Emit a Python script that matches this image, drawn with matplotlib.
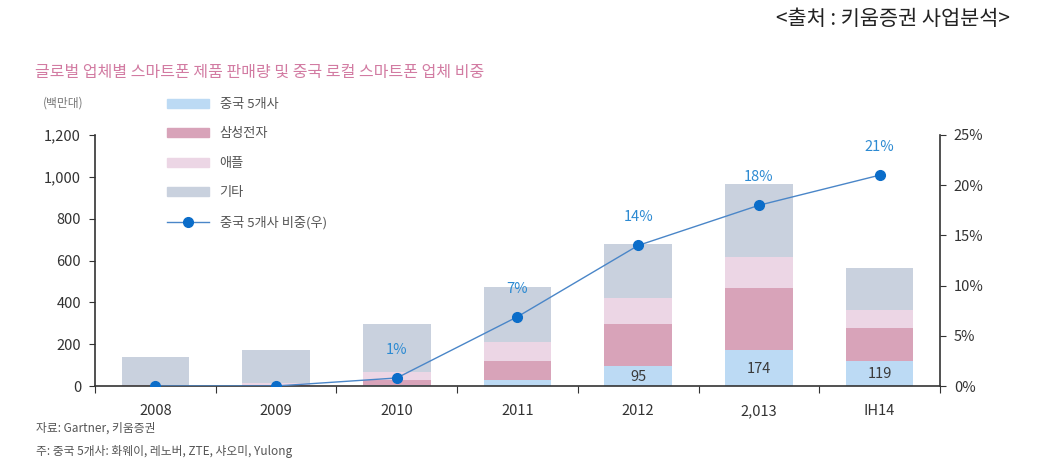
import matplotlib.pyplot as plt
from matplotlib.patches import Patch
from matplotlib.lines import Line2D

plt.rcParams['font.family'] = ['Noto Sans CJK KR', 'DejaVu Sans']

# data (백만대)
years = ['2008', '2009', '2010', '2011', '2012', '2,013', 'IH14']
china5 = [0, 0, 3, 29, 95, 174, 119]
samsung = [2, 4, 24, 91, 202, 295, 158]
apple = [4, 10, 40, 90, 124, 148, 87]
other = [133, 159, 230, 262, 259, 351, 201]
china_share = [0.0, 0.0, 0.8, 6.9, 14.0, 18.0, 21.0]
share_labels = ['', '', '1%', '7%', '14%', '18%', '21%']
china_labels = ['', '', '', '', '95', '174', '119']

series_names = ['중국 5개사', '삼성전자', '애플', '기타']
line_name = '중국 5개사 비중(우)'

c_china = '#bcdaf4'
c_sam = '#d8a3b9'
c_apple = '#ecd6e5'
c_other = '#c9d1de'
c_line = '#4a86c8'
c_dot = '#0b6dc9'
c_pct = '#2c8ad2'
c_axis = '#333333'

fig = plt.figure(figsize=(10.44, 4.70), dpi=100)
ax = fig.add_axes([95 / 1044, 1 - 386 / 470, 845 / 1044, 251 / 470])

x = list(range(len(years)))
w = 0.56
b1 = china5
b2 = [a + b for a, b in zip(b1, samsung)]
b3 = [a + b for a, b in zip(b2, apple)]
ax.bar(x, china5, w, color=c_china, zorder=2)
ax.bar(x, samsung, w, bottom=b1, color=c_sam, zorder=2)
ax.bar(x, apple, w, bottom=b2, color=c_apple, zorder=2)
ax.bar(x, other, w, bottom=b3, color=c_other, zorder=2)

for i, t in enumerate(china_labels):
    if t:
        ax.text(i, china5[i] / 2 - 4, t, ha='center', va='center', fontsize=10.5, color='#3a3a3a', zorder=5)

ax.set_xlim(-0.5, len(years) - 0.5)
ax.set_ylim(0, 1200)
ax.set_yticks(range(0, 1201, 200))
ax.set_yticklabels([f'{v:,}' for v in range(0, 1201, 200)], fontsize=10.5, color=c_axis)
ax.set_xticks([i - 0.5 for i in range(len(years) + 1)])
ax.set_xticklabels([])
ax.set_xticks(x, minor=True)
ax.set_xticklabels(years, minor=True, fontsize=10.5, color=c_axis)
ax.tick_params(axis='x', which='minor', length=0, pad=13)
ax.tick_params(axis='x', which='major', length=5, direction='out', color=c_axis)
ax.tick_params(axis='y', length=4, direction='out', color=c_axis, pad=6)
for s in ['top', 'right']:
    ax.spines[s].set_visible(False)
for s in ['left', 'bottom']:
    ax.spines[s].set_color(c_axis)
    ax.spines[s].set_linewidth(1.2)

ax2 = ax.twinx()
ax2.plot(x, china_share, color=c_line, lw=1.0, marker='o', markersize=7,
         markerfacecolor=c_dot, markeredgecolor=c_dot, zorder=4)
for i, t in enumerate(share_labels):
    if t:
        ax2.text(i, china_share[i] + 2.8, t, ha='center', va='center', fontsize=10.5, color=c_pct)
ax2.set_ylim(0, 25)
ax2.set_yticks(range(0, 26, 5))
ax2.set_yticklabels([f'{v}%' for v in range(0, 26, 5)], fontsize=10.5, color=c_axis)
ax2.tick_params(axis='y', length=4, direction='out', color=c_axis, pad=6)
for s in ['top', 'left', 'bottom']:
    ax2.spines[s].set_visible(False)
ax2.spines['right'].set_color(c_axis)
ax2.spines['right'].set_linewidth(1.2)

handles = [Patch(color=c) for c in [c_china, c_sam, c_apple, c_other]]
handles.append(Line2D([0], [0], color=c_line, lw=1.0, marker='o', markersize=7,
                      markerfacecolor=c_dot, markeredgecolor=c_dot))
leg = fig.legend(handles, series_names + [line_name], loc='upper left',
                 bbox_to_anchor=(155 / 1044, 1 - 86 / 470), frameon=False,
                 fontsize=9.5, handlelength=3.2, handleheight=0.7,
                 labelspacing=1.25, handletextpad=0.8)
for t in leg.get_texts():
    t.set_color('#555555')

fig.text(43 / 1044, 1 - 103 / 470, '(백만대)', fontsize=8.5, color='#777777', va='center')
fig.text(35 / 1044, 1 - 72 / 470, '글로벌 업체별 스마트폰 제품 판매량 및 중국 로컬 스마트폰 업체 비중',
         fontsize=11.5, color='#d27ba2', va='center')
fig.text(1010 / 1044, 1 - 19 / 470, '<출처 : 키움증권 사업분석>', fontsize=15,
         color='#222222', ha='right', va='center')
fig.text(36 / 1044, 1 - 428 / 470, '자료: Gartner, 키움증권', fontsize=8.5,
         color='#555555', va='center')
fig.text(36 / 1044, 1 - 451 / 470, '주: 중국 5개사: 화웨이, 레노버, ZTE, 샤오미, Yulong',
         fontsize=8.5, color='#555555', va='center')

fig.savefig('out.png', dpi=100)
